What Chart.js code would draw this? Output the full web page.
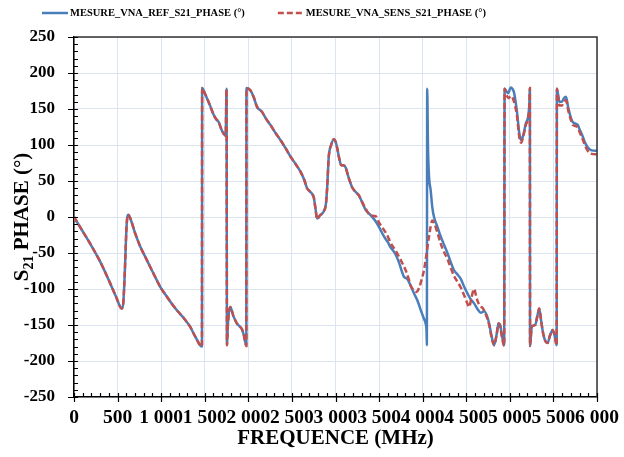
<!DOCTYPE html>
<html>
<head>
<meta charset="utf-8">
<script src="https://cdn.jsdelivr.net/npm/chart.js@4.4.1/dist/chart.umd.min.js"></script>
<style>
  html, body { margin: 0; padding: 0; background: #fff; }
</style>
</head>
<body>
<canvas id="phaseChart" width="624" height="457"></canvas>
<script>
// frequency (MHz) / phase (deg)
const refFreq = [
  0, 100, 200, 300, 400, 480, 548, 565, 585, 600, 612, 624, 640, 700, 760, 820, 873, 930, 989,
  1050, 1120, 1190, 1257, 1330, 1391, 1468, 1470, 1500, 1525, 1560, 1602, 1630, 1659, 1690, 1716,
  1740, 1750, 1755, 1765, 1793, 1830, 1870, 1900, 1927, 1950, 1977, 1979, 2023, 2060, 2100, 2157,
  2200, 2253, 2310, 2368, 2425, 2483, 2540, 2598, 2640, 2674, 2710, 2732, 2751, 2770, 2789, 2820,
  2866, 2890, 2904, 2923, 2950, 2981, 3000, 3019, 3040, 3065, 3090, 3115, 3150, 3192, 3230, 3268,
  3300, 3345, 3400, 3460, 3500, 3556, 3600, 3632, 3680, 3728, 3760, 3785, 3824, 3860, 3900, 3940,
  3977, 4010, 4034, 4045, 4048, 4052, 4061, 4073, 4092, 4111, 4130, 4170, 4207, 4250, 4284, 4320,
  4360, 4400, 4437, 4480, 4513, 4550, 4590, 4630, 4667, 4705, 4740, 4763, 4790, 4820, 4850, 4870,
  4889, 4910, 4935, 4940, 4980, 5011, 5030, 5050, 5080, 5110, 5130, 5150, 5184, 5214, 5225, 5230,
  5232, 5245, 5253, 5291, 5315, 5337, 5360, 5383, 5410, 5433, 5460, 5491, 5520, 5537, 5540, 5560,
  5567, 5598, 5620, 5644, 5670, 5700, 5721, 5778, 5800, 5836, 5860, 5893, 5930, 5989, 6000
];
const refPhase = [
  0, -20, -40, -62, -88, -110, -127, -120, -70, -20, 0, 3, 0, -22, -41, -56, -69, -83, -97,
  -108, -120, -131, -140, -152, -166, -180, 179, 172, 165, 155, 142, 136, 132, 122, 116,
  113, 178, -178, -150, -125, -138, -148, -152, -156, -165, -179, 179, 176, 167, 153, 146,
  137, 128, 117, 107, 96, 84, 74, 63, 52, 40, 35, 32, 27, 12, -2, 2,
  8, 18, 40, 84, 100, 108, 105, 96, 83, 72, 72, 69, 55, 41, 35, 30,
  22, 10, 3, -6, -14, -27, -35, -42, -50, -63, -75, -83, -86, -95, -106, -116,
  -129, -140, -148, -160, -178, 178, 98, 56, 37, 13, 0, -14, -27, -40, -50, -62,
  -74, -80, -86, -98, -106, -114, -120, -128, -133, -131, -138, -148, -165, -178, -162, -148,
  -150, -165, -178, 178, 172, 180, 178, 172, 148, 115, 107, 112, 130, 142, 160, 179,
  -179, -160, -152, -150, -138, -127, -145, -162, -173, -175, -165, -157, -168, -178, 178, 165,
  160, 160, 165, 167, 152, 138, 132, 128, 122, 112, 104, 97, 93, 92, 92
];
const sensFreq = [
  0, 100, 200, 300, 400, 480, 548, 565, 585, 600, 612, 624, 640, 700, 760, 820, 873, 930, 989,
  1050, 1120, 1190, 1257, 1330, 1391, 1468, 1470, 1500, 1525, 1560, 1602, 1630, 1659, 1690, 1716,
  1740, 1750, 1755, 1765, 1793, 1830, 1870, 1900, 1927, 1950, 1977, 1979, 2023, 2060, 2100, 2157,
  2200, 2253, 2310, 2368, 2425, 2483, 2540, 2598, 2640, 2674, 2710, 2732, 2751, 2770, 2789, 2820,
  2866, 2890, 2904, 2923, 2950, 2981, 3000, 3019, 3040, 3065, 3090, 3115, 3150, 3192, 3230, 3268,
  3300, 3345, 3402, 3460, 3500, 3556, 3600, 3632, 3680, 3728, 3770, 3805, 3840, 3862, 3900, 3931,
  3960, 3990, 4015, 4040, 4073, 4111, 4130, 4170, 4207, 4250, 4284, 4320, 4360, 4400, 4437, 4480,
  4513, 4533, 4560, 4590, 4610, 4628, 4660, 4686, 4720, 4763, 4790, 4820, 4850, 4870, 4889, 4910,
  4935, 4940, 4960, 4985, 5011, 5040, 5080, 5110, 5130, 5150, 5184, 5214, 5225, 5230, 5232, 5245,
  5253, 5291, 5315, 5337, 5360, 5383, 5410, 5433, 5460, 5491, 5520, 5537, 5540, 5560, 5567, 5598,
  5620, 5644, 5670, 5700, 5721, 5778, 5800, 5836, 5860, 5893, 5930, 5989, 6000
];
const sensPhase = [
  0, -20, -40, -62, -88, -110, -127, -120, -70, -20, 0, 3, 0, -22, -41, -56, -69, -83, -97,
  -108, -120, -131, -140, -152, -166, -180, 179, 172, 165, 155, 142, 136, 132, 122, 116,
  113, 178, -178, -150, -125, -138, -148, -152, -156, -165, -179, 179, 176, 167, 153, 146,
  137, 128, 117, 107, 96, 84, 74, 63, 52, 40, 35, 32, 27, 12, -3, 2,
  8, 18, 40, 84, 100, 108, 105, 96, 83, 72, 72, 69, 55, 41, 35, 30,
  22, 12, 2, 1, -8, -18, -27, -36, -45, -55, -65, -74, -86, -95, -102, -104,
  -98, -86, -74, -55, -27, -5, -8, -22, -37, -50, -58, -70, -82, -90, -98, -110,
  -120, -125, -112, -100, -108, -116, -124, -126, -134, -150, -167, -178, -162, -148, -152, -167,
  -179, 178, 170, 165, 168, 163, 142, 110, 103, 110, 128, 140, 158, 179, -179, -160,
  -152, -150, -138, -127, -145, -162, -173, -175, -165, -157, -168, -178, 178, 160, 155, 155,
  160, 162, 148, 135, 128, 125, 118, 108, 100, 92, 88, 87, 87
];

const seriesNames = ["MESURE_VNA_REF_S21_PHASE (°)", "MESURE_VNA_SENS_S21_PHASE (°)"];
const xRange = [0, 6000];
const yRange = [-250, 250];
const xStep = 500;
const yStep = 50;

const FONT = "'Liberation Serif', 'Times New Roman', serif";

function toPoints(xs, ys) {
  return xs.map((x, i) => ({ x: x, y: ys[i] }));
}

function frenchThousands(v) {
  return String(v).replace(/\B(?=(\d{3})+(?!\d))/g, " ");
}

// frame, minor ticks, legend and y title with subscript
const decorPlugin = {
  id: "decor",
  afterDraw(chart) {
    const { ctx, chartArea: a, scales } = chart;
    const xs = scales.x, ys = scales.y;
    ctx.save();
    ctx.strokeStyle = "#333";
    ctx.lineWidth = 1.5;
    ctx.beginPath();
    ctx.moveTo(a.left, a.top);
    ctx.lineTo(a.right, a.top);
    ctx.lineTo(a.right, a.bottom);
    ctx.stroke();

    ctx.strokeStyle = "#000";
    ctx.lineWidth = 1.2;
    ctx.beginPath();
    for (let v = xRange[0]; v <= xRange[1]; v += 100) {
      const px = Math.round(xs.getPixelForValue(v)) + 0.5;
      const major = v % xStep === 0;
      ctx.moveTo(px, a.bottom - 4);
      ctx.lineTo(px, a.bottom + (major ? 5 : 0));
    }
    for (let v = yRange[0]; v <= yRange[1]; v += 10) {
      const py = Math.round(ys.getPixelForValue(v)) + 0.5;
      const major = v % yStep === 0;
      ctx.moveTo(a.left + 4, py);
      ctx.lineTo(a.left - (major ? 6 : 0), py);
    }
    ctx.stroke();

    // legend
    ctx.font = "bold 10.5px " + FONT;
    ctx.textBaseline = "middle";
    ctx.fillStyle = "#000";
    const ly = 13;
    let lx = 42;
    chart.data.datasets.forEach((ds, i) => {
      ctx.strokeStyle = ds.borderColor;
      ctx.lineWidth = 2.5;
      ctx.setLineDash(ds.borderDash || []);
      ctx.beginPath();
      ctx.moveTo(lx, ly);
      ctx.lineTo(lx + 26, ly);
      ctx.stroke();
      ctx.setLineDash([]);
      ctx.textAlign = "left";
      ctx.fillText(ds.label, lx + 28, ly);
      lx += 28 + ctx.measureText(ds.label).width + 33;
    });

    // y axis title: S21 PHASE (°)
    ctx.translate(23, (a.top + a.bottom) / 2);
    ctx.rotate(-Math.PI / 2);
    const big = "bold 21px " + FONT, small = "bold 14px " + FONT;
    ctx.font = big;
    const wS = ctx.measureText("S").width;
    const wRest = ctx.measureText(" PHASE (°)").width;
    ctx.font = small;
    const wSub = ctx.measureText("21").width;
    let tx = -(wS + wSub + wRest) / 2;
    ctx.textAlign = "left";
    ctx.font = big;
    ctx.fillText("S", tx, 0);
    ctx.font = small;
    ctx.fillText("21", tx + wS, 6);
    ctx.font = big;
    ctx.fillText(" PHASE (°)", tx + wS + wSub, 0);
    ctx.restore();
  }
};

const ctx = document.getElementById("phaseChart");

const chart = new Chart(ctx, {
  type: "line",
  data: {
    datasets: [
      {
        label: seriesNames[0],
        data: toPoints(refFreq, refPhase),
        borderColor: "#4a7ebb",
        borderWidth: 2.5,
        pointRadius: 0,
        cubicInterpolationMode: "monotone",
        order: 1,
      },
      {
        label: seriesNames[1],
        data: toPoints(sensFreq, sensPhase),
        borderColor: "#c0504d",
        borderWidth: 2.5,
        borderDash: [6, 3],
        pointRadius: 0,
        cubicInterpolationMode: "monotone",
        order: 0,
      },
    ],
  },
  options: {
    responsive: false,
    animation: false,
    layout: { padding: { top: 37, right: 27, bottom: 0, left: 0 } },
    plugins: {
      legend: { display: false },
      tooltip: { enabled: false },
    },
    scales: {
      x: {
        type: "linear",
        min: xRange[0],
        max: xRange[1],
        afterFit: (s) => { s.height = 60; s.paddingRight = 0; },
        grid: { color: "#dbe5f1", lineWidth: 1, drawTicks: false },
        border: { color: "#000", width: 1.5 },
        ticks: {
          stepSize: xStep,
          autoSkip: false,
          maxRotation: 0,
          padding: 9,
          color: "#000",
          font: { family: FONT, size: 19.5, weight: "bold" },
          callback: (v) => frenchThousands(v),
        },
        title: {
          display: true,
          text: "FREQUENCE (MHz)",
          color: "#000",
          font: { family: FONT, size: 21, weight: "bold" },
          padding: { top: 0, bottom: 6 },
        },
      },
      y: {
        min: yRange[0],
        max: yRange[1],
        afterFit: (s) => { s.width = 74; },
        grid: { color: "#dbe5f1", lineWidth: 1, drawTicks: false },
        border: { color: "#000", width: 1.5 },
        ticks: {
          stepSize: yStep,
          padding: 19,
          color: "#000",
          font: { family: FONT, size: 17, weight: "bold" },
        },
      },
    },
  },
  plugins: [decorPlugin],
});
</script>
</body>
</html>
